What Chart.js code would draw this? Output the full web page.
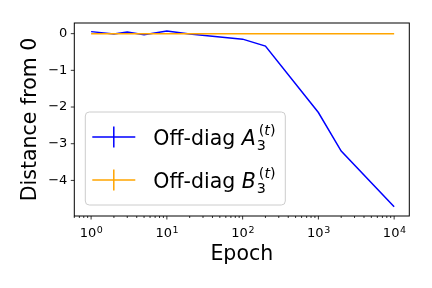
<!DOCTYPE html>
<html>
<head>
<meta charset="utf-8">
<script src="https://cdn.jsdelivr.net/npm/chart.js@4/dist/chart.umd.min.js"></script>
<style>
  html, body { margin: 0; padding: 0; background: #fff; }
  #wrap { width: 432px; height: 288px; }
</style>
</head>
<body>
<div id="wrap"><canvas id="c" width="432" height="288"></canvas></div>
<script>
/* data */
var epochs = [1, 2, 3, 5, 10, 20, 100, 200, 1000, 2000, 10000];
var offDiagA = [0.055, -0.01, 0.045, -0.03, 0.07, -0.01, -0.15, -0.34, -2.15, -3.2, -4.72];
var offDiagB = [0, 0, 0, 0, 0, 0, 0, 0, 0, 0, 0];
var xMajor = [1, 10, 100, 1000, 10000];
var xExponents = ["0", "1", "2", "3", "4"];
var yTicks = [-4, -3, -2, -1, 0];

var FONT = "DejaVu Sans";
var BLUE = "#0000ff", ORANGE = "#ffa500";

function pts(ys) {
  return epochs.map(function (e, i) { return { x: e, y: ys[i] }; });
}

/* frame, tick marks, 10^k labels and the mathtext-like legend */
var decor = {
  id: "decor",
  afterDraw: function (chart) {
    var ctx = chart.ctx, a = chart.chartArea;
    var xs = chart.scales.x, ys = chart.scales.y;
    ctx.save();
    ctx.strokeStyle = "#000";
    ctx.lineWidth = 0.8;
    ctx.beginPath();
    xMajor.forEach(function (v) {
      var p = xs.getPixelForValue(v);
      ctx.moveTo(p, a.bottom); ctx.lineTo(p, a.bottom + 3.5);
    });
    for (var k = -1; k <= 4; k++) {
      for (var m = 2; m <= 9; m++) {
        var v = m * Math.pow(10, k);
        if (v < xs.min || v > xs.max) continue;
        var p = xs.getPixelForValue(v);
        ctx.moveTo(p, a.bottom); ctx.lineTo(p, a.bottom + 2);
      }
    }
    yTicks.forEach(function (v) {
      var p = ys.getPixelForValue(v);
      ctx.moveTo(a.left - 3.5, p); ctx.lineTo(a.left, p);
    });
    ctx.stroke();
    ctx.lineWidth = 1;
    ctx.strokeRect(a.left, a.top, a.right - a.left, a.bottom - a.top);

    // x tick labels as 10^k
    ctx.fillStyle = "#000";
    ctx.textBaseline = "alphabetic";
    ctx.textAlign = "left";
    xMajor.forEach(function (v, i) {
      var p = xs.getPixelForValue(v);
      ctx.font = "13px '" + FONT + "'";
      var wb = ctx.measureText("10").width;
      ctx.font = "9.5px '" + FONT + "'";
      var we = ctx.measureText(xExponents[i]).width;
      var x0 = p - (wb + we) / 2;
      var base = a.bottom + 21;
      ctx.font = "13px '" + FONT + "'";
      ctx.fillText("10", x0, base);
      ctx.font = "9.5px '" + FONT + "'";
      ctx.fillText(xExponents[i], x0 + wb + 0.5, base - 4.5);
    });

    // legend
    var bx = a.left + 11, by = a.bottom - 104, bw = 200, bh = 93;
    ctx.fillStyle = "rgba(255,255,255,0.8)";
    ctx.strokeStyle = "#cccccc";
    ctx.lineWidth = 1;
    ctx.beginPath();
    ctx.roundRect(bx, by, bw, bh, 4);
    ctx.fill();
    ctx.stroke();

    var rows = [
      { color: BLUE, sym: "A", cy: by + 25 },
      { color: ORANGE, sym: "B", cy: by + 68 }
    ];
    rows.forEach(function (r) {
      ctx.strokeStyle = r.color;
      ctx.lineWidth = 1.5;
      ctx.beginPath();
      ctx.moveTo(bx + 7, r.cy); ctx.lineTo(bx + 50, r.cy);
      ctx.moveTo(bx + 28.5, r.cy - 10.5); ctx.lineTo(bx + 28.5, r.cy + 10.5);
      ctx.stroke();

      var base = r.cy + 8;
      var tx = bx + 68;
      ctx.fillStyle = "#000";
      ctx.font = "20.5px '" + FONT + "'";
      ctx.fillText("Off-diag ", tx, base);
      tx += ctx.measureText("Off-diag ").width;
      ctx.font = "italic 20.5px '" + FONT + "'";
      ctx.fillText(r.sym, tx, base);
      tx += ctx.measureText(r.sym).width;
      ctx.font = "14.3px '" + FONT + "'";
      ctx.fillText("3", tx + 1, base + 5);
      ctx.fillText("(", tx + 3, base - 10);
      var w1 = ctx.measureText("(").width;
      ctx.font = "italic 14.3px '" + FONT + "'";
      ctx.fillText("t", tx + 3 + w1, base - 10);
      var w2 = ctx.measureText("t").width;
      ctx.font = "14.3px '" + FONT + "'";
      ctx.fillText(")", tx + 3 + w1 + w2, base - 10);
    });
    ctx.restore();
  }
};

new Chart(document.getElementById("c"), {
  type: "line",
  data: {
    datasets: [
      { label: "Off-diag B", data: pts(offDiagB), borderColor: ORANGE, borderWidth: 1.5,
        pointRadius: 0, tension: 0, fill: false },
      { label: "Off-diag A", data: pts(offDiagA), borderColor: BLUE, borderWidth: 1.5,
        pointRadius: 0, tension: 0, fill: false }
    ]
  },
  options: {
    responsive: false,
    animation: false,
    devicePixelRatio: 1,
    layout: { padding: { top: 23, right: 22.7, left: 0, bottom: 0 } },
    plugins: { legend: { display: false }, tooltip: { enabled: false } },
    scales: {
      x: {
        type: "logarithmic",
        min: Math.pow(10, -0.2),
        max: Math.pow(10, 4.2),
        afterBuildTicks: function (s) {
          s.ticks = xMajor.map(function (v) { return { value: v, major: true }; });
        },
        afterFit: function (s) { s.height = 72; },
        ticks: { display: false },
        grid: { display: false, drawTicks: false },
        border: { display: false },
        title: {
          display: true, text: "Epoch", color: "#000",
          font: { family: FONT, size: 20.5 },
          padding: { top: 0, bottom: 21 }
        }
      },
      y: {
        type: "linear",
        min: -4.97,
        max: 0.29,
        afterBuildTicks: function (s) {
          s.ticks = yTicks.map(function (v) { return { value: v }; });
        },
        afterFit: function (s) { s.width = 74.3; },
        ticks: {
          padding: 7, color: "#000",
          font: { family: FONT, size: 13 },
          callback: function (v) { return v < 0 ? "\u2212" + Math.abs(v) : String(v); }
        },
        grid: { display: false, drawTicks: false },
        border: { display: false },
        title: {
          display: true, text: "Distance from 0", color: "#000",
          font: { family: FONT, size: 20.5 },
          padding: { top: 18, bottom: 0 }
        }
      }
    }
  },
  plugins: [decor]
});
</script>
</body>
</html>
